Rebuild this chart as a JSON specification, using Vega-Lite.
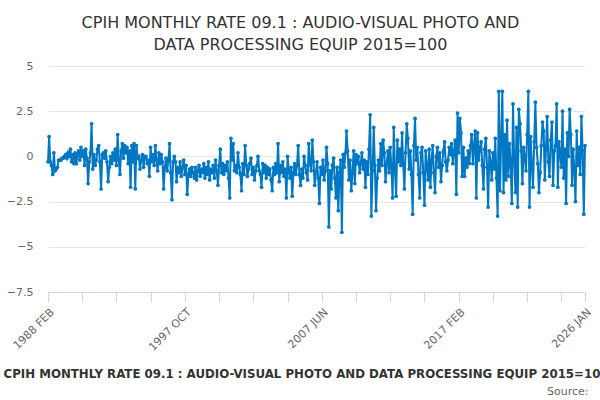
{
  "$schema": "https://vega.github.io/schema/vega-lite/v6.json",
  "description": "CPIH monthly rate 09.1, line with markers",
  "width": 537,
  "height": 226,
  "autosize": "none",
  "padding": {"left": 48, "top": 66, "right": 15, "bottom": 108},
  "background": "#ffffff",
  "title": {
    "text": ["CPIH MONTHLY RATE 09.1 : AUDIO-VISUAL PHOTO AND", "DATA PROCESSING EQUIP 2015=100"],
    "font": "DejaVu Sans",
    "fontSize": 16,
    "fontWeight": "normal",
    "color": "#333333",
    "anchor": "middle",
    "frame": "group",
    "dx": -16,
    "lineHeight": 22,
    "offset": 7
  },
  "data": {
    "values": [
      {"d":"1988-02-01","v":-0.3},{"d":"1988-03-01","v":1.1},{"d":"1988-04-01","v":-0.3},{"d":"1988-05-01","v":-0.5},{"d":"1988-06-01","v":-1.0},{"d":"1988-07-01","v":0.2},{"d":"1988-08-01","v":-0.8},{"d":"1988-09-01","v":-0.7},{"d":"1988-10-01","v":-0.6},{"d":"1988-11-01","v":-0.2},{"d":"1988-12-01","v":-0.2},
      {"d":"1989-01-01","v":-0.2},{"d":"1989-02-01","v":-0.1},{"d":"1989-03-01","v":-0.1},{"d":"1989-04-01","v":0.0},{"d":"1989-05-01","v":0.1},{"d":"1989-06-01","v":-0.1},{"d":"1989-07-01","v":0.2},{"d":"1989-08-01","v":0.0},{"d":"1989-09-01","v":0.4},{"d":"1989-10-01","v":-0.3},{"d":"1989-11-01","v":0.1},{"d":"1989-12-01","v":-0.4},
      {"d":"1990-01-01","v":0.2},{"d":"1990-02-01","v":-0.4},{"d":"1990-03-01","v":0.1},{"d":"1990-04-01","v":0.3},{"d":"1990-05-01","v":-0.2},{"d":"1990-06-01","v":0.5},{"d":"1990-07-01","v":0.0},{"d":"1990-08-01","v":0.3},{"d":"1990-09-01","v":-0.5},{"d":"1990-10-01","v":0.4},{"d":"1990-11-01","v":-0.1},{"d":"1990-12-01","v":-1.5},
      {"d":"1991-01-01","v":-0.3},{"d":"1991-02-01","v":0.2},{"d":"1991-03-01","v":1.8},{"d":"1991-04-01","v":-0.7},{"d":"1991-05-01","v":0.1},{"d":"1991-06-01","v":-0.5},{"d":"1991-07-01","v":-0.2},{"d":"1991-08-01","v":0.4},{"d":"1991-09-01","v":0.6},{"d":"1991-10-01","v":-0.3},{"d":"1991-11-01","v":-1.8},{"d":"1991-12-01","v":0.1},
      {"d":"1992-01-01","v":0.2},{"d":"1992-02-01","v":-0.1},{"d":"1992-03-01","v":0.3},{"d":"1992-04-01","v":-0.3},{"d":"1992-05-01","v":-1.4},{"d":"1992-06-01","v":-0.6},{"d":"1992-07-01","v":0.0},{"d":"1992-08-01","v":-0.4},{"d":"1992-09-01","v":0.2},{"d":"1992-10-01","v":-0.2},{"d":"1992-11-01","v":0.4},{"d":"1992-12-01","v":-0.5},
      {"d":"1993-01-01","v":1.2},{"d":"1993-02-01","v":-0.2},{"d":"1993-03-01","v":-1.0},{"d":"1993-04-01","v":0.3},{"d":"1993-05-01","v":0.7},{"d":"1993-06-01","v":-0.1},{"d":"1993-07-01","v":0.6},{"d":"1993-08-01","v":0.2},{"d":"1993-09-01","v":0.5},{"d":"1993-10-01","v":-0.4},{"d":"1993-11-01","v":0.3},{"d":"1993-12-01","v":-1.7},
      {"d":"1994-01-01","v":0.6},{"d":"1994-02-01","v":-0.3},{"d":"1994-03-01","v":0.7},{"d":"1994-04-01","v":-1.8},{"d":"1994-05-01","v":0.6},{"d":"1994-06-01","v":-0.1},{"d":"1994-07-01","v":0.0},{"d":"1994-08-01","v":-0.7},{"d":"1994-09-01","v":-0.2},{"d":"1994-10-01","v":0.1},{"d":"1994-11-01","v":-0.6},{"d":"1994-12-01","v":0.0},
      {"d":"1995-01-01","v":0.0},{"d":"1995-02-01","v":-0.4},{"d":"1995-03-01","v":-0.2},{"d":"1995-04-01","v":-1.1},{"d":"1995-05-01","v":0.5},{"d":"1995-06-01","v":-0.3},{"d":"1995-07-01","v":0.1},{"d":"1995-08-01","v":-0.5},{"d":"1995-09-01","v":0.6},{"d":"1995-10-01","v":-0.2},{"d":"1995-11-01","v":-0.8},{"d":"1995-12-01","v":0.2},
      {"d":"1996-01-01","v":-0.4},{"d":"1996-02-01","v":0.1},{"d":"1996-03-01","v":-0.3},{"d":"1996-04-01","v":-1.8},{"d":"1996-05-01","v":-0.6},{"d":"1996-06-01","v":-0.1},{"d":"1996-07-01","v":-0.8},{"d":"1996-08-01","v":-0.2},{"d":"1996-09-01","v":0.7},{"d":"1996-10-01","v":-0.9},{"d":"1996-11-01","v":-2.4},{"d":"1996-12-01","v":-0.3},
      {"d":"1997-01-01","v":0.0},{"d":"1997-02-01","v":-0.3},{"d":"1997-03-01","v":-1.4},{"d":"1997-04-01","v":-0.6},{"d":"1997-05-01","v":-0.9},{"d":"1997-06-01","v":-0.3},{"d":"1997-07-01","v":-1.1},{"d":"1997-08-01","v":-0.6},{"d":"1997-09-01","v":-0.2},{"d":"1997-10-01","v":-1.0},{"d":"1997-11-01","v":-0.5},{"d":"1997-12-01","v":-2.1},
      {"d":"1998-01-01","v":-1.0},{"d":"1998-02-01","v":-0.7},{"d":"1998-03-01","v":-1.1},{"d":"1998-04-01","v":-0.6},{"d":"1998-05-01","v":-0.9},{"d":"1998-06-01","v":-1.2},{"d":"1998-07-01","v":-0.6},{"d":"1998-08-01","v":-1.3},{"d":"1998-09-01","v":-0.8},{"d":"1998-10-01","v":-0.5},{"d":"1998-11-01","v":-1.1},{"d":"1998-12-01","v":-0.7},
      {"d":"1999-01-01","v":-0.9},{"d":"1999-02-01","v":-0.4},{"d":"1999-03-01","v":-1.2},{"d":"1999-04-01","v":-0.6},{"d":"1999-05-01","v":-1.0},{"d":"1999-06-01","v":-0.3},{"d":"1999-07-01","v":-1.3},{"d":"1999-08-01","v":-0.7},{"d":"1999-09-01","v":-0.9},{"d":"1999-10-01","v":-0.5},{"d":"1999-11-01","v":-1.2},{"d":"1999-12-01","v":-0.2},
      {"d":"2000-01-01","v":-0.8},{"d":"2000-02-01","v":-1.6},{"d":"2000-03-01","v":-0.5},{"d":"2000-04-01","v":0.4},{"d":"2000-05-01","v":-0.9},{"d":"2000-06-01","v":-0.4},{"d":"2000-07-01","v":-1.0},{"d":"2000-08-01","v":-0.5},{"d":"2000-09-01","v":-0.8},{"d":"2000-10-01","v":-0.3},{"d":"2000-11-01","v":-1.2},{"d":"2000-12-01","v":-2.3},
      {"d":"2001-01-01","v":1.0},{"d":"2001-02-01","v":-0.2},{"d":"2001-03-01","v":0.7},{"d":"2001-04-01","v":-0.8},{"d":"2001-05-01","v":-0.5},{"d":"2001-06-01","v":-0.9},{"d":"2001-07-01","v":0.2},{"d":"2001-08-01","v":-0.6},{"d":"2001-09-01","v":-1.0},{"d":"2001-10-01","v":-1.9},{"d":"2001-11-01","v":-0.4},{"d":"2001-12-01","v":-1.0},
      {"d":"2002-01-01","v":0.6},{"d":"2002-02-01","v":-0.5},{"d":"2002-03-01","v":-1.1},{"d":"2002-04-01","v":-0.7},{"d":"2002-05-01","v":-0.4},{"d":"2002-06-01","v":-0.1},{"d":"2002-07-01","v":-1.0},{"d":"2002-08-01","v":-0.6},{"d":"2002-09-01","v":-1.3},{"d":"2002-10-01","v":-0.8},{"d":"2002-11-01","v":-0.5},{"d":"2002-12-01","v":0.0},
      {"d":"2003-01-01","v":-0.8},{"d":"2003-02-01","v":-1.0},{"d":"2003-03-01","v":-1.7},{"d":"2003-04-01","v":-0.4},{"d":"2003-05-01","v":-0.9},{"d":"2003-06-01","v":-0.5},{"d":"2003-07-01","v":-1.2},{"d":"2003-08-01","v":-0.6},{"d":"2003-09-01","v":-1.0},{"d":"2003-10-01","v":-0.7},{"d":"2003-11-01","v":-1.3},{"d":"2003-12-01","v":-1.9},
      {"d":"2004-01-01","v":-0.6},{"d":"2004-02-01","v":-1.0},{"d":"2004-03-01","v":-0.4},{"d":"2004-04-01","v":-0.9},{"d":"2004-05-01","v":0.7},{"d":"2004-06-01","v":-1.4},{"d":"2004-07-01","v":-0.5},{"d":"2004-08-01","v":-0.9},{"d":"2004-09-01","v":-0.3},{"d":"2004-10-01","v":-1.1},{"d":"2004-11-01","v":-0.7},{"d":"2004-12-01","v":-2.3},
      {"d":"2005-01-01","v":0.0},{"d":"2005-02-01","v":-0.8},{"d":"2005-03-01","v":-1.2},{"d":"2005-04-01","v":-0.6},{"d":"2005-05-01","v":-2.2},{"d":"2005-06-01","v":-0.9},{"d":"2005-07-01","v":-0.4},{"d":"2005-08-01","v":-1.0},{"d":"2005-09-01","v":-0.5},{"d":"2005-10-01","v":0.6},{"d":"2005-11-01","v":-1.0},{"d":"2005-12-01","v":-1.6},
      {"d":"2006-01-01","v":-0.7},{"d":"2006-02-01","v":-1.2},{"d":"2006-03-01","v":0.0},{"d":"2006-04-01","v":-0.5},{"d":"2006-05-01","v":-0.9},{"d":"2006-06-01","v":-1.3},{"d":"2006-07-01","v":0.7},{"d":"2006-08-01","v":-0.4},{"d":"2006-09-01","v":-0.8},{"d":"2006-10-01","v":0.9},{"d":"2006-11-01","v":-0.3},{"d":"2006-12-01","v":-1.6},
      {"d":"2007-01-01","v":-0.9},{"d":"2007-02-01","v":-0.3},{"d":"2007-03-01","v":-1.2},{"d":"2007-04-01","v":-2.6},{"d":"2007-05-01","v":-0.6},{"d":"2007-06-01","v":-1.0},{"d":"2007-07-01","v":-0.2},{"d":"2007-08-01","v":-1.3},{"d":"2007-09-01","v":-0.8},{"d":"2007-10-01","v":0.5},{"d":"2007-11-01","v":-0.4},{"d":"2007-12-01","v":-3.9},
      {"d":"2008-01-01","v":-0.8},{"d":"2008-02-01","v":-1.8},{"d":"2008-03-01","v":-0.5},{"d":"2008-04-01","v":-0.1},{"d":"2008-05-01","v":-1.2},{"d":"2008-06-01","v":-2.3},{"d":"2008-07-01","v":-0.6},{"d":"2008-08-01","v":-3.0},{"d":"2008-09-01","v":-0.9},{"d":"2008-10-01","v":-0.2},{"d":"2008-11-01","v":-4.2},{"d":"2008-12-01","v":0.1},
      {"d":"2009-01-01","v":-0.6},{"d":"2009-02-01","v":0.2},{"d":"2009-03-01","v":1.4},{"d":"2009-04-01","v":0.3},{"d":"2009-05-01","v":-1.3},{"d":"2009-06-01","v":-0.2},{"d":"2009-07-01","v":-1.9},{"d":"2009-08-01","v":-0.9},{"d":"2009-09-01","v":0.3},{"d":"2009-10-01","v":-1.5},{"d":"2009-11-01","v":0.1},{"d":"2009-12-01","v":-0.4},
      {"d":"2010-01-01","v":0.0},{"d":"2010-02-01","v":-0.9},{"d":"2010-03-01","v":-0.4},{"d":"2010-04-01","v":0.2},{"d":"2010-05-01","v":-0.7},{"d":"2010-06-01","v":-0.2},{"d":"2010-07-01","v":-1.7},{"d":"2010-08-01","v":-0.3},{"d":"2010-09-01","v":-1.0},{"d":"2010-10-01","v":0.4},{"d":"2010-11-01","v":2.3},{"d":"2010-12-01","v":-3.3},
      {"d":"2011-01-01","v":-0.8},{"d":"2011-02-01","v":1.6},{"d":"2011-03-01","v":-0.5},{"d":"2011-04-01","v":-3.0},{"d":"2011-05-01","v":-1.2},{"d":"2011-06-01","v":-0.2},{"d":"2011-07-01","v":-0.8},{"d":"2011-08-01","v":0.7},{"d":"2011-09-01","v":-0.5},{"d":"2011-10-01","v":0.9},{"d":"2011-11-01","v":0.2},{"d":"2011-12-01","v":-1.4},
      {"d":"2012-01-01","v":-0.4},{"d":"2012-02-01","v":0.3},{"d":"2012-03-01","v":-0.9},{"d":"2012-04-01","v":0.5},{"d":"2012-05-01","v":-0.6},{"d":"2012-06-01","v":-2.3},{"d":"2012-07-01","v":1.6},{"d":"2012-08-01","v":-0.8},{"d":"2012-09-01","v":-2.2},{"d":"2012-10-01","v":0.9},{"d":"2012-11-01","v":-0.3},{"d":"2012-12-01","v":0.4},
      {"d":"2013-01-01","v":-0.5},{"d":"2013-02-01","v":1.3},{"d":"2013-03-01","v":-0.4},{"d":"2013-04-01","v":-1.8},{"d":"2013-05-01","v":0.2},{"d":"2013-06-01","v":1.8},{"d":"2013-07-01","v":1.0},{"d":"2013-08-01","v":-0.7},{"d":"2013-09-01","v":0.3},{"d":"2013-10-01","v":-1.0},{"d":"2013-11-01","v":-3.2},{"d":"2013-12-01","v":0.6},
      {"d":"2014-01-01","v":2.1},{"d":"2014-02-01","v":-0.2},{"d":"2014-03-01","v":0.5},{"d":"2014-04-01","v":-1.0},{"d":"2014-05-01","v":-2.3},{"d":"2014-06-01","v":0.2},{"d":"2014-07-01","v":0.5},{"d":"2014-08-01","v":-0.9},{"d":"2014-09-01","v":-2.7},{"d":"2014-10-01","v":0.3},{"d":"2014-11-01","v":-0.5},{"d":"2014-12-01","v":-1.3},
      {"d":"2015-01-01","v":0.4},{"d":"2015-02-01","v":-1.7},{"d":"2015-03-01","v":-0.3},{"d":"2015-04-01","v":0.6},{"d":"2015-05-01","v":-0.9},{"d":"2015-06-01","v":-2.0},{"d":"2015-07-01","v":0.0},{"d":"2015-08-01","v":0.5},{"d":"2015-09-01","v":-0.6},{"d":"2015-10-01","v":0.2},{"d":"2015-11-01","v":-1.4},{"d":"2015-12-01","v":-0.5},
      {"d":"2016-01-01","v":0.3},{"d":"2016-02-01","v":0.8},{"d":"2016-03-01","v":-0.3},{"d":"2016-04-01","v":-0.8},{"d":"2016-05-01","v":-0.2},{"d":"2016-06-01","v":0.5},{"d":"2016-07-01","v":0.1},{"d":"2016-08-01","v":0.7},{"d":"2016-09-01","v":-0.4},{"d":"2016-10-01","v":0.3},{"d":"2016-11-01","v":0.9},{"d":"2016-12-01","v":-2.1},
      {"d":"2017-01-01","v":2.4},{"d":"2017-02-01","v":0.2},{"d":"2017-03-01","v":2.1},{"d":"2017-04-01","v":1.3},{"d":"2017-05-01","v":-1.1},{"d":"2017-06-01","v":0.5},{"d":"2017-07-01","v":-1.1},{"d":"2017-08-01","v":-0.1},{"d":"2017-09-01","v":-0.6},{"d":"2017-10-01","v":0.3},{"d":"2017-11-01","v":-0.4},{"d":"2017-12-01","v":0.6},
      {"d":"2018-01-01","v":1.2},{"d":"2018-02-01","v":-0.4},{"d":"2018-03-01","v":0.6},{"d":"2018-04-01","v":1.4},{"d":"2018-05-01","v":-2.3},{"d":"2018-06-01","v":1.3},{"d":"2018-07-01","v":-0.2},{"d":"2018-08-01","v":0.5},{"d":"2018-09-01","v":0.8},{"d":"2018-10-01","v":-0.5},{"d":"2018-11-01","v":-1.8},{"d":"2018-12-01","v":0.4},
      {"d":"2019-01-01","v":1.0},{"d":"2019-02-01","v":-0.6},{"d":"2019-03-01","v":-2.8},{"d":"2019-04-01","v":0.3},{"d":"2019-05-01","v":-0.3},{"d":"2019-06-01","v":-1.3},{"d":"2019-07-01","v":0.2},{"d":"2019-08-01","v":-0.7},{"d":"2019-09-01","v":1.0},{"d":"2019-10-01","v":-1.2},{"d":"2019-11-01","v":-3.3},{"d":"2019-12-01","v":3.6},
      {"d":"2020-01-01","v":-1.9},{"d":"2020-02-01","v":1.0},{"d":"2020-03-01","v":3.6},{"d":"2020-04-01","v":-2.0},{"d":"2020-05-01","v":1.2},{"d":"2020-06-01","v":-1.3},{"d":"2020-07-01","v":2.0},{"d":"2020-08-01","v":-1.1},{"d":"2020-09-01","v":0.7},{"d":"2020-10-01","v":-0.4},{"d":"2020-11-01","v":-2.6},{"d":"2020-12-01","v":2.9},
      {"d":"2021-01-01","v":-0.2},{"d":"2021-02-01","v":-2.0},{"d":"2021-03-01","v":1.6},{"d":"2021-04-01","v":-2.8},{"d":"2021-05-01","v":2.6},{"d":"2021-06-01","v":1.8},{"d":"2021-07-01","v":0.3},{"d":"2021-08-01","v":-1.5},{"d":"2021-09-01","v":0.5},{"d":"2021-10-01","v":0.0},{"d":"2021-11-01","v":-0.8},{"d":"2021-12-01","v":1.2},
      {"d":"2022-01-01","v":3.6},{"d":"2022-02-01","v":-2.8},{"d":"2022-03-01","v":1.1},{"d":"2022-04-01","v":-0.5},{"d":"2022-05-01","v":-1.7},{"d":"2022-06-01","v":0.8},{"d":"2022-07-01","v":3.0},{"d":"2022-08-01","v":0.5},{"d":"2022-09-01","v":-0.4},{"d":"2022-10-01","v":-2.0},{"d":"2022-11-01","v":-0.9},{"d":"2022-12-01","v":0.6},
      {"d":"2023-01-01","v":1.9},{"d":"2023-02-01","v":1.4},{"d":"2023-03-01","v":-1.3},{"d":"2023-04-01","v":0.4},{"d":"2023-05-01","v":2.2},{"d":"2023-06-01","v":-0.3},{"d":"2023-07-01","v":-1.1},{"d":"2023-08-01","v":0.9},{"d":"2023-09-01","v":1.9},{"d":"2023-10-01","v":-1.6},{"d":"2023-11-01","v":0.3},{"d":"2023-12-01","v":0.6},
      {"d":"2024-01-01","v":2.9},{"d":"2024-02-01","v":-1.7},{"d":"2024-03-01","v":0.8},{"d":"2024-04-01","v":0.2},{"d":"2024-05-01","v":-0.6},{"d":"2024-06-01","v":2.5},{"d":"2024-07-01","v":-1.2},{"d":"2024-08-01","v":0.4},{"d":"2024-09-01","v":-2.6},{"d":"2024-10-01","v":1.3},{"d":"2024-11-01","v":0.0},{"d":"2024-12-01","v":2.6},
      {"d":"2025-01-01","v":1.2},{"d":"2025-02-01","v":-1.6},{"d":"2025-03-01","v":0.4},{"d":"2025-04-01","v":-0.8},{"d":"2025-05-01","v":-2.5},{"d":"2025-06-01","v":1.4},{"d":"2025-07-01","v":-0.5},{"d":"2025-08-01","v":0.5},{"d":"2025-09-01","v":-1.0},{"d":"2025-10-01","v":2.2},{"d":"2025-11-01","v":0.3},{"d":"2025-12-01","v":-3.2},
      {"d":"2026-01-01","v":0.6}
    ]
  },
  "mark": {
    "type": "line",
    "color": "#0077c2",
    "strokeWidth": 2,
    "point": {"filled": true, "size": 14, "color": "#0077c2"}
  },
  "encoding": {
    "x": {
      "field": "d",
      "type": "temporal",
      "scale": {
        "type": "utc",
        "domain": [
          {"year": 1988, "month": 2, "date": 1, "utc": true},
          {"year": 2026, "month": 1, "date": 1, "utc": true}
        ]
      },
      "axis": {
        "values": [
          {"year": 1988, "month": 2, "date": 1, "utc": true},
          {"year": 1990, "month": 7, "date": 1, "utc": true},
          {"year": 1992, "month": 12, "date": 1, "utc": true},
          {"year": 1995, "month": 5, "date": 1, "utc": true},
          {"year": 1997, "month": 10, "date": 1, "utc": true},
          {"year": 2000, "month": 3, "date": 1, "utc": true},
          {"year": 2002, "month": 8, "date": 1, "utc": true},
          {"year": 2005, "month": 1, "date": 1, "utc": true},
          {"year": 2007, "month": 6, "date": 1, "utc": true},
          {"year": 2009, "month": 11, "date": 1, "utc": true},
          {"year": 2012, "month": 4, "date": 1, "utc": true},
          {"year": 2014, "month": 9, "date": 1, "utc": true},
          {"year": 2017, "month": 2, "date": 1, "utc": true},
          {"year": 2019, "month": 7, "date": 1, "utc": true},
          {"year": 2021, "month": 12, "date": 1, "utc": true},
          {"year": 2024, "month": 5, "date": 1, "utc": true},
          {"year": 2026, "month": 1, "date": 1, "utc": true}
        ],
        "labelExpr": "indexof(['1988 Feb','1997 Oct','2007 Jun','2017 Feb','2026 Jan'], utcFormat(datum.value, '%Y %b')) >= 0 ? upper(utcFormat(datum.value, '%Y %b')) : ''",
        "labelAngle": -45,
        "labelFont": "DejaVu Sans",
        "labelFontSize": 11,
        "labelColor": "#666666",
        "labelOverlap": false,
        "labelFlush": false,
        "labelPadding": 4,
        "grid": false,
        "domainColor": "#ccd6eb",
        "tickColor": "#ccd6eb",
        "tickSize": 10,
        "title": "CPIH MONTHLY RATE 09.1 : AUDIO-VISUAL PHOTO AND DATA PROCESSING EQUIP 2015=100",
        "titleFont": "DejaVu Sans",
        "titleFontSize": 11.8,
        "titleFontWeight": "bold",
        "titleColor": "#333333",
        "titleAlign": "left",
        "titleAnchor": "start",
        "titleBaseline": "alphabetic",
        "titleX": -45,
        "titleY": 85
      }
    },
    "y": {
      "field": "v",
      "type": "quantitative",
      "scale": {"domain": [-7.5, 5], "nice": false, "zero": false},
      "axis": {
        "values": [-7.5, -5, -2.5, 0, 2.5, 5],
        "format": ".1~f",
        "labelFont": "DejaVu Sans",
        "labelFontSize": 11,
        "labelColor": "#666666",
        "labelPadding": 15,
        "domain": false,
        "ticks": false,
        "gridColor": "#e6e6e6",
        "title": "Source:",
        "titleFont": "DejaVu Sans",
        "titleFontSize": 11,
        "titleFontWeight": "normal",
        "titleColor": "#666666",
        "titleAngle": 0,
        "titleAlign": "right",
        "titleBaseline": "alphabetic",
        "titleX": 540,
        "titleY": 328
      }
    }
  },
  "config": {
    "view": {"stroke": null},
    "font": "DejaVu Sans"
  }
}
